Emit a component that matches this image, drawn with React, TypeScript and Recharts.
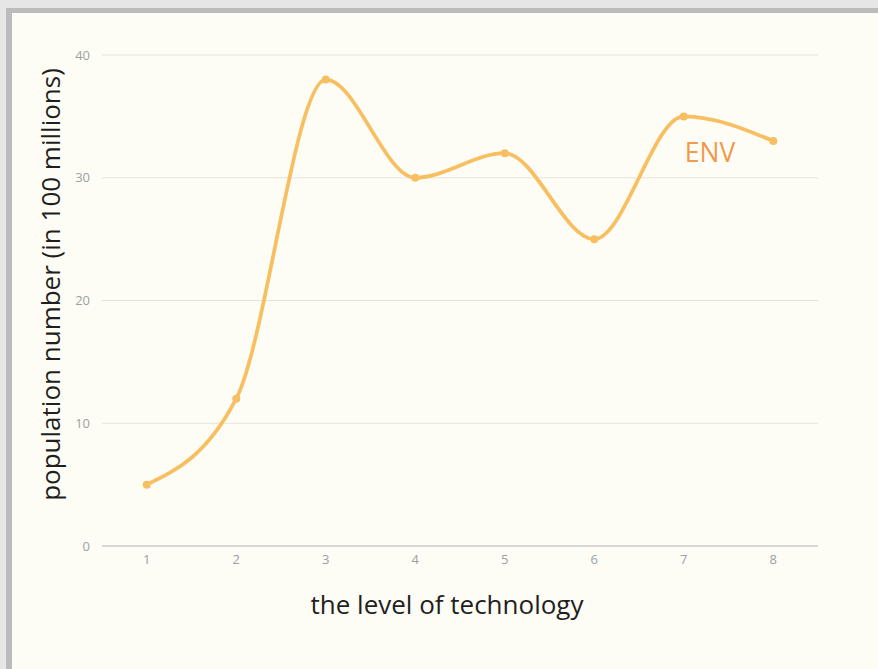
import { CartesianGrid, Label, Line, LineChart, XAxis, YAxis } from "recharts"

const LEVELS = [1, 2, 3, 4, 5, 6, 7, 8]
const POPULATION = [5, 12, 38, 30, 32, 25, 35, 33]
const Y_TICKS = [0, 10, 20, 30, 40]

const SERIES_NAME = "ENV"
const LINE_COLOR = "#f8bf62"
const NAME_COLOR = "#ef9a4f"
const FONT = "'Open Sans', 'Noto Sans', sans-serif"

const data = LEVELS.map((level, i) => ({ level, population: POPULATION[i] }))

/** Series name drawn under the 7th point, like the original's inline legend. */
function SeriesName(props: { x?: number; y?: number; index?: number }) {
  const { x = 0, y = 0, index } = props
  if (index !== 6) return null
  return (
    <text x={x + 1} y={y + 46} fill={NAME_COLOR} fontSize={26.5} fontFamily={FONT}>
      {SERIES_NAME}
    </text>
  )
}

export default function App() {
  return (
    <div style={{ position: "absolute", left: 0, top: 0, width: 878, height: 669, background: "#e6e6e6" }}>
      <div style={{ position: "absolute", left: 6, top: 8, right: 0, bottom: 0, background: "#bcbcbc" }} />
      <div style={{ position: "absolute", left: 12, top: 13, right: 0, bottom: 0, background: "#fdfdf5" }} />
      <div style={{ position: "absolute", left: 0, top: 0 }}>
        <LineChart width={878} height={669} data={data} margin={{ top: 55, right: 60, bottom: 53, left: 42 }}>
          <CartesianGrid vertical={false} stroke="#e4e4dc" />
          <XAxis
            dataKey="level"
            padding={{ left: 44.75, right: 44.75 }}
            height={70}
            tickLine={false}
            stroke="#bdbdb8"
            tick={{ fill: "#a0a0a0", fontSize: 13, fontFamily: FONT }}
            tickMargin={3}
          >
            <Label
              value="the level of technology"
              position="insideBottom"
              offset={2}
              dx={-13}
              fill="#1f1f1f"
              fontSize={26}
              fontFamily={FONT}
            />
          </XAxis>
          <YAxis
            domain={[0, 40]}
            ticks={Y_TICKS}
            width={60}
            axisLine={false}
            tickLine={false}
            tickSize={6}
            tickMargin={6}
            tick={{ fill: "#a0a0a0", fontSize: 13, fontFamily: FONT }}
          >
            <Label
              content={({ viewBox }: any) => {
                const cx = viewBox.x + 8
                const cy = viewBox.y + viewBox.height / 2 - 16
                return (
                  <text
                    x={cx}
                    y={cy}
                    transform={`rotate(-90, ${cx}, ${cy})`}
                    textAnchor="middle"
                    dominantBaseline="central"
                    fill="#1f1f1f"
                    fontSize={26}
                    fontFamily={FONT}
                  >
                    population number (in 100 millions)
                  </text>
                )
              }}
            />
          </YAxis>
          <Line
            type="monotone"
            dataKey="population"
            stroke={LINE_COLOR}
            strokeWidth={3.75}
            dot={{ r: 4, fill: LINE_COLOR, stroke: "none" }}
            activeDot={false}
            label={SeriesName}
            isAnimationActive={false}
          />
        </LineChart>
      </div>
    </div>
  )
}
